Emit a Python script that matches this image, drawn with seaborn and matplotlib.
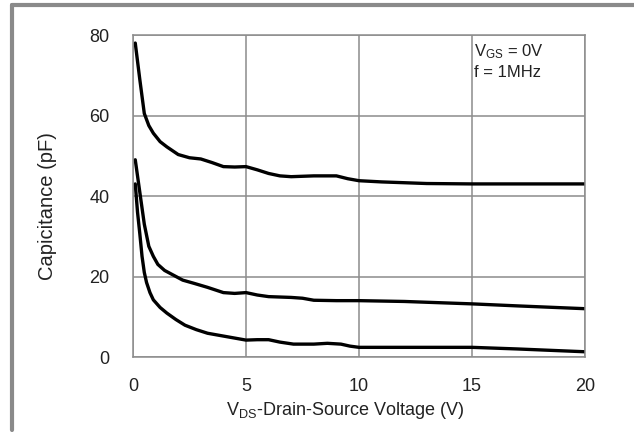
import matplotlib
matplotlib.use("Agg")
import matplotlib.pyplot as plt
import seaborn as sns
import pandas as pd
from matplotlib.lines import Line2D

# ---- data ----
ciss_v = [0.1, 0.3, 0.5, 0.7, 0.9, 1.2, 1.5, 2.0, 2.5, 3.0, 3.5, 4.0, 4.5, 5.0,
          5.5, 6.0, 6.5, 7.0, 8.0, 9.0, 9.5, 10, 11, 12, 13, 15, 17, 20]
ciss_c = [78, 69, 60.5, 57.5, 55.6, 53.5, 52.2, 50.3, 49.5, 49.2, 48.3, 47.3, 47.2, 47.3,
          46.5, 45.6, 45.0, 44.8, 45.0, 45.0, 44.3, 43.8, 43.5, 43.3, 43.1, 43.0, 43.0, 43.0]

coss_v = [0.1, 0.3, 0.5, 0.7, 0.9, 1.1, 1.4, 1.8, 2.2, 2.7, 3.3, 4.0, 4.5, 5.0,
          5.5, 6.0, 7.0, 7.5, 8.0, 9.0, 10, 12, 15, 17, 20]
coss_c = [49, 41, 33, 27.5, 25, 23, 21.5, 20.3, 19.1, 18.3, 17.3, 16.0, 15.8, 16.0,
          15.4, 15.0, 14.8, 14.6, 14.1, 14.0, 14.0, 13.8, 13.2, 12.7, 12.0]

crss_v = [0.1, 0.2, 0.3, 0.4, 0.5, 0.6, 0.75, 0.9, 1.2, 1.5, 1.9, 2.3, 2.8, 3.3,
          4.2, 5.0, 5.5, 6.0, 6.5, 7.1, 8.0, 8.6, 9.2, 9.6, 10, 12, 15, 17, 20]
crss_c = [43, 36, 30.7, 25, 21, 18.5, 16, 14.2, 12.3, 10.9, 9.3, 7.9, 6.8, 5.9,
          5.0, 4.2, 4.3, 4.3, 3.7, 3.2, 3.2, 3.4, 3.2, 2.7, 2.4, 2.4, 2.4, 2.0, 1.3]

x_ticks = [0, 5, 10, 15, 20]
y_ticks = [0, 20, 40, 60, 80]
x_label = "V$_{\\rm DS}$-Drain-Source Voltage (V)"
y_label = "Capicitance (pF)"
note_lines = ["V$_{\\rm GS}$ = 0V", "f = 1MHz"]

# ---- style ----
sns.set_style("white")
plt.rcParams["font.family"] = ["Liberation Sans", "DejaVu Sans"]
plt.rcParams["mathtext.fontset"] = "custom"
plt.rcParams["mathtext.rm"] = "Liberation Sans"
plt.rcParams["mathtext.it"] = "Liberation Sans:italic"

fig = plt.figure(figsize=(6.34, 4.33), dpi=100)
ax = fig.add_axes([133 / 634, 1 - 357 / 433, 452 / 634, 322 / 433])

for xs, ys in [(ciss_v, ciss_c), (coss_v, coss_c), (crss_v, crss_c)]:
    df = pd.DataFrame({"V": xs, "C": ys})
    sns.lineplot(data=df, x="V", y="C", ax=ax, color="black", lw=2.4,
                 sort=False, estimator=None)

ax.set_xlim(0, 20)
ax.set_ylim(0, 80)
ax.set_xticks(x_ticks)
ax.set_yticks(y_ticks)
ax.set_xticklabels([str(t) for t in x_ticks])
ax.set_yticklabels([str(t) for t in y_ticks])
ax.grid(True, color="#8c8c8c", lw=1.1)
for s in ax.spines.values():
    s.set_color("#8c8c8c")
    s.set_linewidth(1.1)
ax.tick_params(axis="both", length=0, labelsize=13, colors="#222222")
ax.tick_params(axis="y", pad=17)
ax.tick_params(axis="x", pad=15)
ax.set_xlabel(x_label, fontsize=13, color="#222222")
ax.set_ylabel(y_label, fontsize=14.5, color="#222222")
ax.xaxis.set_label_coords(0.469, -0.165)
ax.yaxis.set_label_coords(-0.19, 0.469)
ax.xaxis.label.set_va("center")
ax.yaxis.label.set_va("center")

ax.text(0.754, 0.947, note_lines[0], transform=ax.transAxes, fontsize=12,
        color="#222222", va="center", ha="left")
ax.text(0.754, 0.885, note_lines[1], transform=ax.transAxes, fontsize=12,
        color="#222222", va="center", ha="left")

# outer gray frame (top and left)
W, H = 634, 433
fig.add_artist(Line2D([11.5 / W, 1.0], [1 - 5 / H, 1 - 5 / H],
                      transform=fig.transFigure, color="#8a8a8a", lw=3.0))
fig.add_artist(Line2D([11.5 / W, 11.5 / W], [1 - 5 / H, 1 - 430 / H],
                      transform=fig.transFigure, color="#8a8a8a", lw=3.0))

fig.savefig("out.png", dpi=100)
